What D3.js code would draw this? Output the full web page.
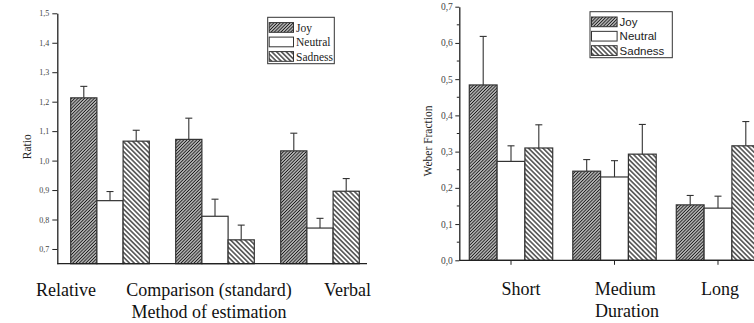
<!DOCTYPE html>
<html>
<head>
<meta charset="utf-8">
<script src="https://cdn.jsdelivr.net/npm/d3@7.9.0/dist/d3.min.js"></script>
<style>
  body { margin: 0; background: #fff; }
  svg { display: block; }
  .serif { font-family: 'Liberation Serif', 'Times New Roman', Times, 'DejaVu Serif', serif; }
  .sans { font-family: 'Liberation Sans', Arial, Helvetica, sans-serif; }
</style>
</head>
<body>
<svg id="chart" width="754" height="323"></svg>
<script>
// series shared by both panels
const series = ['Joy', 'Neutral', 'Sadness'];

// left panel: ratio by method of estimation
const methods = ['Relative', 'Comparison (standard)', 'Verbal'];
const ratioJoy = [1.213, 1.072, 1.033];
const ratioJoyErr = [0.039, 0.072, 0.060];
const ratioNeutral = [0.864, 0.811, 0.771];
const ratioNeutralErr = [0.031, 0.058, 0.033];
const ratioSadness = [1.066, 0.731, 0.896];
const ratioSadnessErr = [0.037, 0.050, 0.043];
const ratioTicks = [0.7, 0.8, 0.9, 1.0, 1.1, 1.2, 1.3, 1.4, 1.5];

// right panel: weber fraction by duration
const durations = ['Short', 'Medium', 'Long'];
const weberJoy = [0.484, 0.246, 0.153];
const weberJoyErr = [0.134, 0.032, 0.026];
const weberNeutral = [0.273, 0.230, 0.144];
const weberNeutralErr = [0.043, 0.045, 0.033];
const weberSadness = [0.310, 0.293, 0.316];
const weberSadnessErr = [0.064, 0.082, 0.067];
const weberTicks = [0, 0.1, 0.2, 0.3, 0.4, 0.5, 0.6, 0.7];

const svg = d3.select('#chart');
const ink = '#222';

// hatch patterns
const defs = svg.append('defs');
function hatch(id, angle, gap, width, bg) {
  let p = defs.append('pattern')
    .attr('id', id)
    .attr('patternUnits', 'userSpaceOnUse')
    .attr('width', gap).attr('height', gap)
    .attr('patternTransform', `rotate(${angle})`);
  p.append('rect').attr('width', gap).attr('height', gap).attr('fill', bg);
  p.append('line').attr('x1', gap / 2).attr('y1', 0).attr('x2', gap / 2).attr('y2', gap)
    .attr('stroke', '#1a1a1a').attr('stroke-width', width);
}
hatch('hJoy', 45, 2.3, 1, '#c8c8c8');
hatch('hSad', -45, 3.4, 1.2, '#fff');
const fills = { Joy: 'url(#hJoy)', Neutral: '#fff', Sadness: 'url(#hSad)' };

const fmt = (d) => d.toFixed(1).replace('.', ',');

function drawPanel(cfg) {
  let g = svg.append('g');

  let x = d3.scaleBand()
    .domain(cfg.categories)
    .range(cfg.xRange)
    .paddingInner(cfg.padInner)
    .paddingOuter(cfg.padOuter);
  let xs = d3.scaleBand().domain(series).range([0, x.bandwidth()]);
  let y = d3.scaleLinear().domain(cfg.yDomain).range(cfg.yRange);

  let rows = cfg.categories.map((c, i) => ({
    cat: c,
    vals: series.map((s, k) => ({ s, v: cfg.values[k][i], e: cfg.errors[k][i] }))
  }));

  let grp = g.selectAll('.grp').data(rows).join('g')
    .attr('transform', (d) => `translate(${x(d.cat)},0)`);

  // error bars first, bars drawn over them
  grp.selectAll('.err').data((d) => d.vals).join('g').each(function (d) {
    let cx = xs(d.s) + xs.bandwidth() / 2;
    let e = d3.select(this);
    e.append('line').attr('x1', cx).attr('x2', cx)
      .attr('y1', y(d.v)).attr('y2', y(d.v + d.e))
      .attr('stroke', '#333').attr('stroke-width', 1.1);
    e.append('line').attr('x1', cx - 3.5).attr('x2', cx + 3.5)
      .attr('y1', y(d.v + d.e)).attr('y2', y(d.v + d.e))
      .attr('stroke', '#333').attr('stroke-width', 1.1);
  });

  grp.selectAll('rect').data((d) => d.vals).join('rect')
    .attr('x', (d) => xs(d.s))
    .attr('width', xs.bandwidth())
    .attr('y', (d) => y(d.v))
    .attr('height', (d) => y(cfg.yDomain[0]) - y(d.v))
    .attr('fill', (d) => fills[d.s])
    .attr('stroke', '#333')
    .attr('stroke-width', 1.2);

  // y axis
  let yAxis = g.append('g')
    .attr('transform', `translate(${cfg.xAxisStart},0)`)
    .call(d3.axisLeft(y).tickValues(cfg.ticks).tickFormat(fmt)
      .tickSize(cfg.tickLen).tickPadding(cfg.tickPad).tickSizeOuter(0));
  yAxis.attr('font-family', null).attr('font-size', null);
  yAxis.select('.domain').attr('stroke', ink).attr('stroke-width', 1.3);
  yAxis.selectAll('.tick line').attr('stroke', ink).attr('stroke-width', 1);
  yAxis.selectAll('.tick text')
    .attr('class', 'serif').style('font-size', cfg.tickFont + 'px').attr('fill', '#444');

  if (cfg.minor) {
    let minor = d3.range(cfg.ticks.length - 1).map((i) => (cfg.ticks[i] + cfg.ticks[i + 1]) / 2);
    g.append('g').selectAll('line').data(minor).join('line')
      .attr('x1', cfg.xAxisStart - 2.5).attr('x2', cfg.xAxisStart)
      .attr('y1', (d) => y(d)).attr('y2', (d) => y(d))
      .attr('stroke', ink).attr('stroke-width', 1);
  }

  // x axis line
  let y0 = y(cfg.yDomain[0]);
  g.append('line')
    .attr('x1', cfg.xAxisStart).attr('x2', cfg.xAxisEnd)
    .attr('y1', y0).attr('y2', y0)
    .attr('stroke', ink).attr('stroke-width', 1.3);

  if (cfg.xTicks) {
    g.append('g').selectAll('line').data(cfg.categories).join('line')
      .attr('x1', (d) => x(d) + x.bandwidth() / 2).attr('x2', (d) => x(d) + x.bandwidth() / 2)
      .attr('y1', y0).attr('y2', y0 + 4.5)
      .attr('stroke', ink).attr('stroke-width', 1);
  }

  // category labels
  g.append('g').selectAll('text').data(cfg.categories).join('text')
    .attr('class', 'serif')
    .attr('x', (d, i) => x(d) + x.bandwidth() / 2 + cfg.labelDx[i])
    .attr('y', cfg.labelY)
    .attr('text-anchor', 'middle')
    .style('font-size', '18px').attr('fill', '#111')
    .text((d) => d);

  g.append('text')
    .attr('class', 'serif')
    .attr('x', cfg.titleX).attr('y', cfg.titleY)
    .attr('text-anchor', 'middle')
    .style('font-size', '18px').attr('fill', '#111')
    .text(cfg.xTitle);

  g.append('text')
    .attr('class', 'serif')
    .attr('transform', `translate(${cfg.yTitlePos[0]},${cfg.yTitlePos[1]}) rotate(-90)`)
    .attr('text-anchor', 'middle')
    .style('font-size', '11.5px').attr('fill', '#222')
    .text(cfg.yTitle);

  // legend
  let L = cfg.legend;
  let lg = g.append('g').attr('transform', `translate(${L.x},${L.y})`);
  lg.append('rect').attr('width', L.w).attr('height', L.h)
    .attr('fill', '#fff').attr('stroke', '#333').attr('stroke-width', 1);
  let item = lg.selectAll('.it').data(series).join('g')
    .attr('transform', (d, i) => `translate(1.5,${5.3 + i * L.step})`);
  item.append('rect').attr('width', L.sw).attr('height', 9.7)
    .attr('fill', (d) => fills[d]).attr('stroke', '#333').attr('stroke-width', 1);
  item.append('text')
    .attr('class', L.font)
    .attr('x', L.sw + 2.5).attr('y', 9)
    .style('font-size', '11.5px').attr('fill', '#222')
    .text((d) => d);
}

drawPanel({
  categories: methods,
  values: [ratioJoy, ratioNeutral, ratioSadness],
  errors: [ratioJoyErr, ratioNeutralErr, ratioSadnessErr],
  ticks: ratioTicks,
  yDomain: [0.65, 1.5],
  yRange: [263.7, 13.3],
  xRange: [57.3, 372.7],
  padInner: 0.2514,
  padOuter: 0.1276,
  xAxisStart: 57.3,
  xAxisEnd: 367,
  tickLen: 5,
  tickPad: 3,
  tickFont: 8,
  minor: false,
  xTicks: false,
  labelDx: [-44, -6, 27.5],
  labelY: 296,
  xTitle: 'Method of estimation',
  titleX: 209,
  titleY: 318,
  yTitle: 'Ratio',
  yTitlePos: [31, 146.7],
  legend: { x: 267.7, y: 17.3, w: 66.6, h: 46.4, sw: 24.3, step: 14.5, font: 'serif' }
});

drawPanel({
  categories: durations,
  values: [weberJoy, weberNeutral, weberSadness],
  errors: [weberJoyErr, weberNeutralErr, weberSadnessErr],
  ticks: weberTicks,
  yDomain: [0, 0.7],
  yRange: [260.3, 6.7],
  xRange: [459.3, 769.7],
  padInner: 0.194,
  padOuter: 0.0966,
  xAxisStart: 459.3,
  xAxisEnd: 754,
  tickLen: 4,
  tickPad: 2.5,
  tickFont: 9.5,
  minor: true,
  xTicks: true,
  labelDx: [10, 10.7, 2],
  labelY: 295,
  xTitle: 'Duration',
  titleX: 627,
  titleY: 317,
  yTitle: 'Weber Fraction',
  yTitlePos: [432, 141],
  legend: { x: 590, y: 11.7, w: 82.3, h: 46, sw: 25.6, step: 14.35, font: 'sans' }
});
</script>
</body>
</html>
